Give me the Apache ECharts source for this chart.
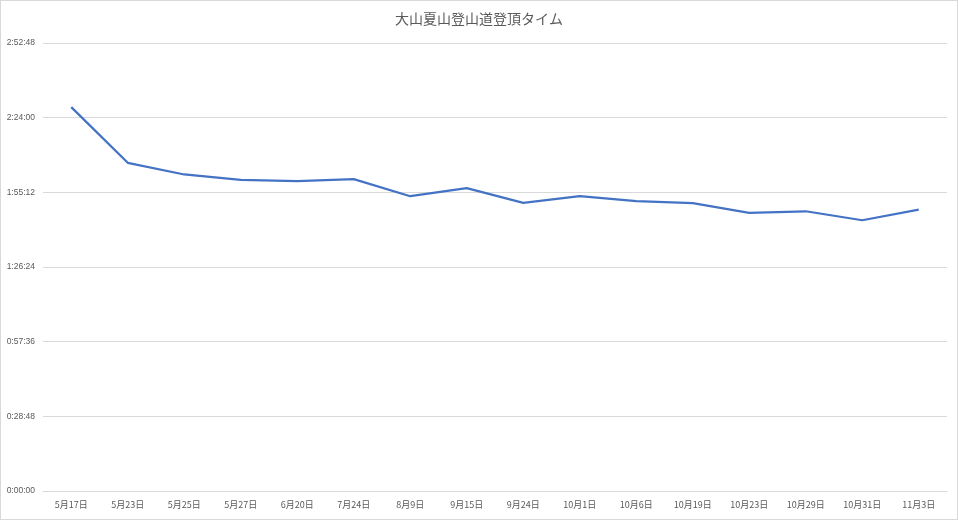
<!DOCTYPE html>
<html><head><meta charset="utf-8">
<script src="https://cdn.jsdelivr.net/npm/echarts@6/dist/echarts.min.js"></script>
<style>
html,body{margin:0;padding:0;background:#fff;}
#c{position:absolute;left:0;top:0;width:958px;height:520px;}
#b{position:absolute;left:0;top:0;width:958px;height:520px;box-sizing:border-box;border:1px solid #d9d9d9;pointer-events:none;}
</style></head>
<body><div id="c"></div><div id="b"></div>
<script>
const titleText = '大山夏山登山道登頂タイム';
const categories = ['5月17日','5月23日','5月25日','5月27日','6月20日','7月24日','8月9日','9月15日','9月24日','10月1日','10月6日','10月19日','10月23日','10月29日','10月31日','11月3日'];
// climb times as h:mm:ss
const times = ['2:28:05','2:06:36','2:02:05','2:00:02','1:59:30','2:00:16','1:53:42','1:56:48','1:51:09','1:53:42','1:51:46','1:51:00','1:47:17','1:47:54','1:44:26','1:48:34'];
const yMaxSec = 10368;
const yStepSec = 1728;

function toSec(s){const p=s.split(':').map(Number);return p[0]*3600+p[1]*60+p[2];}
function fmt(v){v=Math.round(v);const h=Math.floor(v/3600),m=Math.floor(v%3600/60),s=v%60;return h+':'+String(m).padStart(2,'0')+':'+String(s).padStart(2,'0');}
const values = times.map(toSec);

const chart = echarts.init(document.getElementById('c'));
chart.setOption({
  animation:false,
  title:{text:titleText,left:'center',top:7,textStyle:{fontSize:14,fontWeight:'normal',color:'#595959',fontFamily:'"Noto Sans CJK JP", sans-serif'}},
  grid:{left:43,right:11,top:43,bottom:29},
  xAxis:{type:'category',data:categories,boundaryGap:true,
    axisLine:{show:true,lineStyle:{color:'#d9d9d9',width:1}},axisTick:{show:false},
    axisLabel:{color:'#595959',fontSize:9,margin:9,interval:0,fontFamily:'"Noto Sans CJK JP", sans-serif'}},
  yAxis:{type:'value',min:0,max:yMaxSec,interval:yStepSec,
    axisLine:{show:false},axisTick:{show:false},
    splitLine:{lineStyle:{color:'#d9d9d9',width:1}},
    axisLabel:{color:'#595959',fontSize:8.5,margin:8,formatter:fmt,fontFamily:'"Liberation Sans Narrow", "Liberation Sans", sans-serif'}},
  series:[{type:'line',data:values,symbol:'none',lineStyle:{color:'#4472C4',width:2.25},itemStyle:{color:'#4472C4'}}]
});
</script></body></html>
